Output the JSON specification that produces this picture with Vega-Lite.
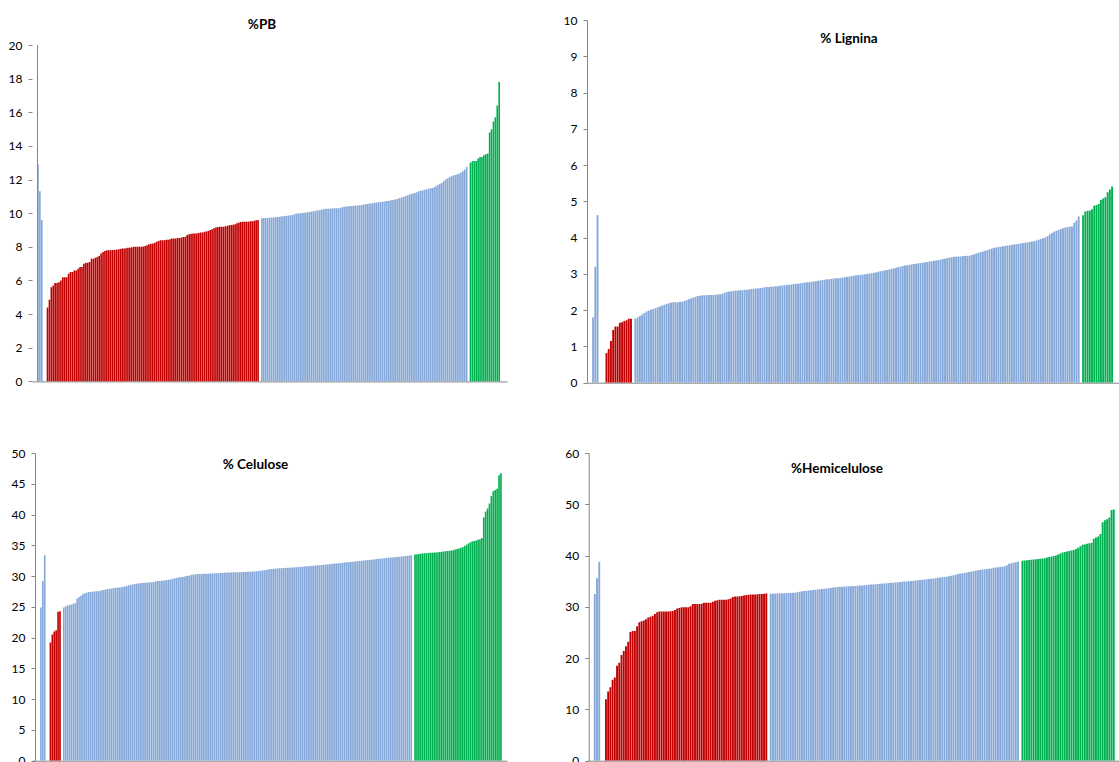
{
"$schema": "https://vega.github.io/schema/vega-lite/v6.json",
"background": "white",
"padding": {"left": 8, "top": 14, "right": 0, "bottom": 0},
"config": {
 "view": {"stroke": null},
 "axisY": {"grid": false, "domainColor": "#868686", "tickColor": "#868686", "tickSize": 4, "labelFont": "Lato", "labelFontSize": 12, "labelColor": "#000000", "labelPadding": 6, "labelOverlap": false},
 "axisX": {"grid": false, "domainColor": "#868686", "labels": false, "ticks": false},
 "title": {"font": "Lato", "fontSize": 13.5, "fontWeight": "bold", "color": "#000000", "offset": 0, "baseline": "alphabetic"}
},
"columns": 2,
"bounds": "flush",
"align": "all",
"spacing": {"row": 70, "column": 23},
"datasets": {
"pb": [
{"s":0,"v":12.9,"g":"r"},{"s":1,"v":11.3,"g":"r"},{"s":2,"v":9.6,"g":"r"},
{"s":5,"v":4.4,"g":"l"},{"s":6,"v":4.85,"g":"l"},{"s":7,"v":5.6,"g":"l"},{"s":8,"v":5.7,"g":"l"},{"s":9,"v":5.85,"g":"l"},{"s":10,"v":5.85,"g":"l"},{"s":11,"v":5.9,"g":"l"},{"s":12,"v":6.0,"g":"l"},{"s":13,"v":6.2,"g":"l"},{"s":14,"v":6.2,"g":"l"},{"s":15,"v":6.2,"g":"l"},{"s":16,"v":6.4,"g":"l"},{"s":17,"v":6.5,"g":"l"},{"s":18,"v":6.5,"g":"l"},{"s":19,"v":6.6,"g":"l"},{"s":20,"v":6.6,"g":"l"},{"s":21,"v":6.7,"g":"l"},{"s":22,"v":6.8,"g":"l"},{"s":23,"v":6.8,"g":"l"},{"s":24,"v":7.0,"g":"l"},{"s":25,"v":7.05,"g":"l"},{"s":26,"v":7.05,"g":"l"},{"s":27,"v":7.1,"g":"l"},{"s":28,"v":7.3,"g":"l"},{"s":29,"v":7.3,"g":"l"},{"s":30,"v":7.35,"g":"l"},{"s":31,"v":7.4,"g":"l"},{"s":32,"v":7.45,"g":"l"},{"s":33,"v":7.6,"g":"l"},{"s":34,"v":7.7,"g":"l"},{"s":35,"v":7.75,"g":"l"},{"s":36,"v":7.8,"g":"l"},{"s":37,"v":7.8,"g":"l"},{"s":38,"v":7.8,"g":"l"},{"s":39,"v":7.82,"g":"l"},{"s":40,"v":7.82,"g":"l"},{"s":41,"v":7.85,"g":"l"},{"s":42,"v":7.85,"g":"l"},{"s":43,"v":7.88,"g":"l"},{"s":44,"v":7.9,"g":"l"},{"s":45,"v":7.9,"g":"l"},{"s":46,"v":7.92,"g":"l"},{"s":47,"v":7.95,"g":"l"},{"s":48,"v":7.95,"g":"l"},{"s":49,"v":7.98,"g":"l"},{"s":50,"v":8.0,"g":"l"},{"s":51,"v":8.0,"g":"l"},{"s":52,"v":8.0,"g":"l"},{"s":53,"v":8.0,"g":"l"},{"s":54,"v":8.0,"g":"l"},{"s":55,"v":8.02,"g":"l"},{"s":56,"v":8.05,"g":"l"},{"s":57,"v":8.1,"g":"l"},{"s":58,"v":8.15,"g":"l"},{"s":59,"v":8.18,"g":"l"},{"s":60,"v":8.2,"g":"l"},{"s":61,"v":8.25,"g":"l"},{"s":62,"v":8.3,"g":"l"},{"s":63,"v":8.35,"g":"l"},{"s":64,"v":8.4,"g":"l"},{"s":65,"v":8.4,"g":"l"},{"s":66,"v":8.4,"g":"l"},{"s":67,"v":8.42,"g":"l"},{"s":68,"v":8.42,"g":"l"},{"s":69,"v":8.45,"g":"l"},{"s":70,"v":8.5,"g":"l"},{"s":71,"v":8.5,"g":"l"},{"s":72,"v":8.5,"g":"l"},{"s":73,"v":8.52,"g":"l"},{"s":74,"v":8.52,"g":"l"},{"s":75,"v":8.55,"g":"l"},{"s":76,"v":8.58,"g":"l"},{"s":77,"v":8.6,"g":"l"},{"s":78,"v":8.7,"g":"l"},{"s":79,"v":8.75,"g":"l"},{"s":80,"v":8.78,"g":"l"},{"s":81,"v":8.8,"g":"l"},{"s":82,"v":8.8,"g":"l"},{"s":83,"v":8.8,"g":"l"},{"s":84,"v":8.82,"g":"l"},{"s":85,"v":8.85,"g":"l"},{"s":86,"v":8.85,"g":"l"},{"s":87,"v":8.9,"g":"l"},{"s":88,"v":8.92,"g":"l"},{"s":89,"v":8.95,"g":"l"},{"s":90,"v":9.0,"g":"l"},{"s":91,"v":9.05,"g":"l"},{"s":92,"v":9.1,"g":"l"},{"s":93,"v":9.15,"g":"l"},{"s":94,"v":9.18,"g":"l"},{"s":95,"v":9.2,"g":"l"},{"s":96,"v":9.2,"g":"l"},{"s":97,"v":9.2,"g":"l"},{"s":98,"v":9.22,"g":"l"},{"s":99,"v":9.25,"g":"l"},{"s":100,"v":9.28,"g":"l"},{"s":101,"v":9.3,"g":"l"},{"s":102,"v":9.32,"g":"l"},{"s":103,"v":9.35,"g":"l"},{"s":104,"v":9.4,"g":"l"},{"s":105,"v":9.45,"g":"l"},{"s":106,"v":9.48,"g":"l"},{"s":107,"v":9.5,"g":"l"},{"s":108,"v":9.5,"g":"l"},{"s":109,"v":9.5,"g":"l"},{"s":110,"v":9.5,"g":"l"},{"s":111,"v":9.52,"g":"l"},{"s":112,"v":9.52,"g":"l"},{"s":113,"v":9.55,"g":"l"},{"s":114,"v":9.58,"g":"l"},{"s":115,"v":9.6,"g":"l"},
{"s":117,"v":9.7,"g":"m"},{"s":118,"v":9.71,"g":"m"},{"s":119,"v":9.72,"g":"m"},{"s":120,"v":9.72,"g":"m"},{"s":121,"v":9.73,"g":"m"},{"s":122,"v":9.74,"g":"m"},{"s":123,"v":9.75,"g":"m"},{"s":124,"v":9.76,"g":"m"},{"s":125,"v":9.77,"g":"m"},{"s":126,"v":9.78,"g":"m"},{"s":127,"v":9.8,"g":"m"},{"s":128,"v":9.82,"g":"m"},{"s":129,"v":9.84,"g":"m"},{"s":130,"v":9.85,"g":"m"},{"s":131,"v":9.87,"g":"m"},{"s":132,"v":9.88,"g":"m"},{"s":133,"v":9.9,"g":"m"},{"s":134,"v":9.94,"g":"m"},{"s":135,"v":9.98,"g":"m"},{"s":136,"v":9.99,"g":"m"},{"s":137,"v":10.0,"g":"m"},{"s":138,"v":10.02,"g":"m"},{"s":139,"v":10.03,"g":"m"},{"s":140,"v":10.04,"g":"m"},{"s":141,"v":10.06,"g":"m"},{"s":142,"v":10.08,"g":"m"},{"s":143,"v":10.1,"g":"m"},{"s":144,"v":10.12,"g":"m"},{"s":145,"v":10.14,"g":"m"},{"s":146,"v":10.16,"g":"m"},{"s":147,"v":10.18,"g":"m"},{"s":148,"v":10.2,"g":"m"},{"s":149,"v":10.23,"g":"m"},{"s":150,"v":10.26,"g":"m"},{"s":151,"v":10.27,"g":"m"},{"s":152,"v":10.27,"g":"m"},{"s":153,"v":10.28,"g":"m"},{"s":154,"v":10.28,"g":"m"},{"s":155,"v":10.29,"g":"m"},{"s":156,"v":10.29,"g":"m"},{"s":157,"v":10.3,"g":"m"},{"s":158,"v":10.32,"g":"m"},{"s":159,"v":10.35,"g":"m"},{"s":160,"v":10.38,"g":"m"},{"s":161,"v":10.4,"g":"m"},{"s":162,"v":10.41,"g":"m"},{"s":163,"v":10.42,"g":"m"},{"s":164,"v":10.43,"g":"m"},{"s":165,"v":10.44,"g":"m"},{"s":166,"v":10.45,"g":"m"},{"s":167,"v":10.46,"g":"m"},{"s":168,"v":10.47,"g":"m"},{"s":169,"v":10.49,"g":"m"},{"s":170,"v":10.51,"g":"m"},{"s":171,"v":10.53,"g":"m"},{"s":172,"v":10.55,"g":"m"},{"s":173,"v":10.57,"g":"m"},{"s":174,"v":10.59,"g":"m"},{"s":175,"v":10.6,"g":"m"},{"s":176,"v":10.62,"g":"m"},{"s":177,"v":10.64,"g":"m"},{"s":178,"v":10.65,"g":"m"},{"s":179,"v":10.67,"g":"m"},{"s":180,"v":10.68,"g":"m"},{"s":181,"v":10.7,"g":"m"},{"s":182,"v":10.72,"g":"m"},{"s":183,"v":10.73,"g":"m"},{"s":184,"v":10.75,"g":"m"},{"s":185,"v":10.78,"g":"m"},{"s":186,"v":10.8,"g":"m"},{"s":187,"v":10.83,"g":"m"},{"s":188,"v":10.86,"g":"m"},{"s":189,"v":10.9,"g":"m"},{"s":190,"v":10.93,"g":"m"},{"s":191,"v":10.97,"g":"m"},{"s":192,"v":11.02,"g":"m"},{"s":193,"v":11.06,"g":"m"},{"s":194,"v":11.1,"g":"m"},{"s":195,"v":11.14,"g":"m"},{"s":196,"v":11.17,"g":"m"},{"s":197,"v":11.2,"g":"m"},{"s":198,"v":11.25,"g":"m"},{"s":199,"v":11.3,"g":"m"},{"s":200,"v":11.34,"g":"m"},{"s":201,"v":11.37,"g":"m"},{"s":202,"v":11.4,"g":"m"},{"s":203,"v":11.42,"g":"m"},{"s":204,"v":11.45,"g":"m"},{"s":205,"v":11.48,"g":"m"},{"s":206,"v":11.5,"g":"m"},{"s":207,"v":11.55,"g":"m"},{"s":208,"v":11.6,"g":"m"},{"s":209,"v":11.68,"g":"m"},{"s":210,"v":11.75,"g":"m"},{"s":211,"v":11.8,"g":"m"},{"s":212,"v":11.9,"g":"m"},{"s":213,"v":12.0,"g":"m"},{"s":214,"v":12.07,"g":"m"},{"s":215,"v":12.14,"g":"m"},{"s":216,"v":12.2,"g":"m"},{"s":217,"v":12.24,"g":"m"},{"s":218,"v":12.28,"g":"m"},{"s":219,"v":12.32,"g":"m"},{"s":220,"v":12.35,"g":"m"},{"s":221,"v":12.42,"g":"m"},{"s":222,"v":12.5,"g":"m"},{"s":223,"v":12.6,"g":"m"},{"s":224,"v":12.75,"g":"m"},
{"s":226,"v":13.0,"g":"h"},{"s":227,"v":13.1,"g":"h"},{"s":228,"v":13.1,"g":"h"},{"s":229,"v":13.1,"g":"h"},{"s":230,"v":13.25,"g":"h"},{"s":231,"v":13.35,"g":"h"},{"s":232,"v":13.35,"g":"h"},{"s":233,"v":13.45,"g":"h"},{"s":234,"v":13.5,"g":"h"},{"s":235,"v":13.55,"g":"h"},{"s":236,"v":14.8,"g":"h"},{"s":237,"v":15.0,"g":"h"},{"s":238,"v":15.45,"g":"h"},{"s":239,"v":15.7,"g":"h"},{"s":240,"v":16.4,"g":"h"},{"s":241,"v":17.8,"g":"h"}
],
"lig": [
{"s":0,"v":1.8,"g":"r"},{"s":1,"v":3.2,"g":"r"},{"s":2,"v":4.62,"g":"r"},
{"s":6,"v":0.82,"g":"l"},{"s":7,"v":0.93,"g":"l"},{"s":8,"v":1.15,"g":"l"},{"s":9,"v":1.45,"g":"l"},{"s":10,"v":1.55,"g":"l"},{"s":11,"v":1.55,"g":"l"},{"s":12,"v":1.65,"g":"l"},{"s":13,"v":1.67,"g":"l"},{"s":14,"v":1.7,"g":"l"},{"s":15,"v":1.72,"g":"l"},{"s":16,"v":1.76,"g":"l"},{"s":17,"v":1.76,"g":"l"},
{"s":19,"v":1.76,"g":"m"},{"s":20,"v":1.8,"g":"m"},{"s":21,"v":1.84,"g":"m"},{"s":22,"v":1.88,"g":"m"},{"s":23,"v":1.92,"g":"m"},{"s":24,"v":1.96,"g":"m"},{"s":25,"v":1.99,"g":"m"},{"s":26,"v":2.01,"g":"m"},{"s":27,"v":2.03,"g":"m"},{"s":28,"v":2.05,"g":"m"},{"s":29,"v":2.08,"g":"m"},{"s":30,"v":2.1,"g":"m"},{"s":31,"v":2.13,"g":"m"},{"s":32,"v":2.15,"g":"m"},{"s":33,"v":2.17,"g":"m"},{"s":34,"v":2.19,"g":"m"},{"s":35,"v":2.21,"g":"m"},{"s":36,"v":2.22,"g":"m"},{"s":37,"v":2.22,"g":"m"},{"s":38,"v":2.22,"g":"m"},{"s":39,"v":2.23,"g":"m"},{"s":40,"v":2.23,"g":"m"},{"s":41,"v":2.25,"g":"m"},{"s":42,"v":2.28,"g":"m"},{"s":43,"v":2.3,"g":"m"},{"s":44,"v":2.33,"g":"m"},{"s":45,"v":2.35,"g":"m"},{"s":46,"v":2.37,"g":"m"},{"s":47,"v":2.39,"g":"m"},{"s":48,"v":2.4,"g":"m"},{"s":49,"v":2.41,"g":"m"},{"s":50,"v":2.41,"g":"m"},{"s":51,"v":2.41,"g":"m"},{"s":52,"v":2.42,"g":"m"},{"s":53,"v":2.42,"g":"m"},{"s":54,"v":2.42,"g":"m"},{"s":55,"v":2.43,"g":"m"},{"s":56,"v":2.43,"g":"m"},{"s":57,"v":2.44,"g":"m"},{"s":58,"v":2.45,"g":"m"},{"s":59,"v":2.48,"g":"m"},{"s":60,"v":2.5,"g":"m"},{"s":61,"v":2.51,"g":"m"},{"s":62,"v":2.52,"g":"m"},{"s":63,"v":2.53,"g":"m"},{"s":64,"v":2.54,"g":"m"},{"s":65,"v":2.54,"g":"m"},{"s":66,"v":2.55,"g":"m"},{"s":67,"v":2.55,"g":"m"},{"s":68,"v":2.56,"g":"m"},{"s":69,"v":2.56,"g":"m"},{"s":70,"v":2.57,"g":"m"},{"s":71,"v":2.58,"g":"m"},{"s":72,"v":2.59,"g":"m"},{"s":73,"v":2.6,"g":"m"},{"s":74,"v":2.6,"g":"m"},{"s":75,"v":2.61,"g":"m"},{"s":76,"v":2.62,"g":"m"},{"s":77,"v":2.63,"g":"m"},{"s":78,"v":2.64,"g":"m"},{"s":79,"v":2.64,"g":"m"},{"s":80,"v":2.65,"g":"m"},{"s":81,"v":2.65,"g":"m"},{"s":82,"v":2.66,"g":"m"},{"s":83,"v":2.66,"g":"m"},{"s":84,"v":2.67,"g":"m"},{"s":85,"v":2.68,"g":"m"},{"s":86,"v":2.69,"g":"m"},{"s":87,"v":2.7,"g":"m"},{"s":88,"v":2.7,"g":"m"},{"s":89,"v":2.71,"g":"m"},{"s":90,"v":2.72,"g":"m"},{"s":91,"v":2.73,"g":"m"},{"s":92,"v":2.73,"g":"m"},{"s":93,"v":2.74,"g":"m"},{"s":94,"v":2.75,"g":"m"},{"s":95,"v":2.76,"g":"m"},{"s":96,"v":2.77,"g":"m"},{"s":97,"v":2.77,"g":"m"},{"s":98,"v":2.78,"g":"m"},{"s":99,"v":2.79,"g":"m"},{"s":100,"v":2.8,"g":"m"},{"s":101,"v":2.81,"g":"m"},{"s":102,"v":2.82,"g":"m"},{"s":103,"v":2.83,"g":"m"},{"s":104,"v":2.84,"g":"m"},{"s":105,"v":2.85,"g":"m"},{"s":106,"v":2.85,"g":"m"},{"s":107,"v":2.86,"g":"m"},{"s":108,"v":2.87,"g":"m"},{"s":109,"v":2.88,"g":"m"},{"s":110,"v":2.88,"g":"m"},{"s":111,"v":2.89,"g":"m"},{"s":112,"v":2.9,"g":"m"},{"s":113,"v":2.91,"g":"m"},{"s":114,"v":2.92,"g":"m"},{"s":115,"v":2.93,"g":"m"},{"s":116,"v":2.94,"g":"m"},{"s":117,"v":2.95,"g":"m"},{"s":118,"v":2.96,"g":"m"},{"s":119,"v":2.97,"g":"m"},{"s":120,"v":2.97,"g":"m"},{"s":121,"v":2.98,"g":"m"},{"s":122,"v":2.99,"g":"m"},{"s":123,"v":3.0,"g":"m"},{"s":124,"v":3.01,"g":"m"},{"s":125,"v":3.02,"g":"m"},{"s":126,"v":3.03,"g":"m"},{"s":127,"v":3.04,"g":"m"},{"s":128,"v":3.06,"g":"m"},{"s":129,"v":3.07,"g":"m"},{"s":130,"v":3.08,"g":"m"},{"s":131,"v":3.1,"g":"m"},{"s":132,"v":3.11,"g":"m"},{"s":133,"v":3.12,"g":"m"},{"s":134,"v":3.14,"g":"m"},{"s":135,"v":3.15,"g":"m"},{"s":136,"v":3.17,"g":"m"},{"s":137,"v":3.19,"g":"m"},{"s":138,"v":3.2,"g":"m"},{"s":139,"v":3.22,"g":"m"},{"s":140,"v":3.23,"g":"m"},{"s":141,"v":3.24,"g":"m"},{"s":142,"v":3.25,"g":"m"},{"s":143,"v":3.26,"g":"m"},{"s":144,"v":3.27,"g":"m"},{"s":145,"v":3.28,"g":"m"},{"s":146,"v":3.29,"g":"m"},{"s":147,"v":3.3,"g":"m"},{"s":148,"v":3.31,"g":"m"},{"s":149,"v":3.32,"g":"m"},{"s":150,"v":3.33,"g":"m"},{"s":151,"v":3.34,"g":"m"},{"s":152,"v":3.35,"g":"m"},{"s":153,"v":3.36,"g":"m"},{"s":154,"v":3.37,"g":"m"},{"s":155,"v":3.38,"g":"m"},{"s":156,"v":3.39,"g":"m"},{"s":157,"v":3.41,"g":"m"},{"s":158,"v":3.42,"g":"m"},{"s":159,"v":3.44,"g":"m"},{"s":160,"v":3.45,"g":"m"},{"s":161,"v":3.46,"g":"m"},{"s":162,"v":3.47,"g":"m"},{"s":163,"v":3.47,"g":"m"},{"s":164,"v":3.48,"g":"m"},{"s":165,"v":3.48,"g":"m"},{"s":166,"v":3.49,"g":"m"},{"s":167,"v":3.49,"g":"m"},{"s":168,"v":3.5,"g":"m"},{"s":169,"v":3.5,"g":"m"},{"s":170,"v":3.52,"g":"m"},{"s":171,"v":3.54,"g":"m"},{"s":172,"v":3.56,"g":"m"},{"s":173,"v":3.58,"g":"m"},{"s":174,"v":3.6,"g":"m"},{"s":175,"v":3.62,"g":"m"},{"s":176,"v":3.64,"g":"m"},{"s":177,"v":3.66,"g":"m"},{"s":178,"v":3.68,"g":"m"},{"s":179,"v":3.7,"g":"m"},{"s":180,"v":3.72,"g":"m"},{"s":181,"v":3.73,"g":"m"},{"s":182,"v":3.74,"g":"m"},{"s":183,"v":3.75,"g":"m"},{"s":184,"v":3.76,"g":"m"},{"s":185,"v":3.77,"g":"m"},{"s":186,"v":3.78,"g":"m"},{"s":187,"v":3.79,"g":"m"},{"s":188,"v":3.8,"g":"m"},{"s":189,"v":3.81,"g":"m"},{"s":190,"v":3.82,"g":"m"},{"s":191,"v":3.83,"g":"m"},{"s":192,"v":3.84,"g":"m"},{"s":193,"v":3.85,"g":"m"},{"s":194,"v":3.86,"g":"m"},{"s":195,"v":3.87,"g":"m"},{"s":196,"v":3.88,"g":"m"},{"s":197,"v":3.89,"g":"m"},{"s":198,"v":3.9,"g":"m"},{"s":199,"v":3.92,"g":"m"},{"s":200,"v":3.94,"g":"m"},{"s":201,"v":3.96,"g":"m"},{"s":202,"v":3.98,"g":"m"},{"s":203,"v":4.0,"g":"m"},{"s":204,"v":4.04,"g":"m"},{"s":205,"v":4.09,"g":"m"},{"s":206,"v":4.13,"g":"m"},{"s":207,"v":4.16,"g":"m"},{"s":208,"v":4.19,"g":"m"},{"s":209,"v":4.21,"g":"m"},{"s":210,"v":4.24,"g":"m"},{"s":211,"v":4.26,"g":"m"},{"s":212,"v":4.28,"g":"m"},{"s":213,"v":4.29,"g":"m"},{"s":214,"v":4.3,"g":"m"},{"s":215,"v":4.31,"g":"m"},{"s":216,"v":4.4,"g":"m"},{"s":217,"v":4.47,"g":"m"},{"s":218,"v":4.58,"g":"m"},
{"s":220,"v":4.62,"g":"h"},{"s":221,"v":4.72,"g":"h"},{"s":222,"v":4.74,"g":"h"},{"s":223,"v":4.75,"g":"h"},{"s":224,"v":4.78,"g":"h"},{"s":225,"v":4.88,"g":"h"},{"s":226,"v":4.9,"g":"h"},{"s":227,"v":4.93,"g":"h"},{"s":228,"v":5.04,"g":"h"},{"s":229,"v":5.08,"g":"h"},{"s":230,"v":5.11,"g":"h"},{"s":231,"v":5.25,"g":"h"},{"s":232,"v":5.33,"g":"h"},{"s":233,"v":5.41,"g":"h"}
],
"cel": [
{"s":0,"v":24.9,"g":"r"},{"s":1,"v":29.2,"g":"r"},{"s":2,"v":33.4,"g":"r"},
{"s":5,"v":19.2,"g":"l"},{"s":6,"v":20.5,"g":"l"},{"s":7,"v":21.0,"g":"l"},{"s":8,"v":21.2,"g":"l"},{"s":9,"v":24.2,"g":"l"},{"s":10,"v":24.3,"g":"l"},
{"s":12,"v":24.9,"g":"m"},{"s":13,"v":25.1,"g":"m"},{"s":14,"v":25.2,"g":"m"},{"s":15,"v":25.3,"g":"m"},{"s":16,"v":25.4,"g":"m"},{"s":17,"v":25.5,"g":"m"},{"s":18,"v":25.6,"g":"m"},{"s":19,"v":26.3,"g":"m"},{"s":20,"v":26.6,"g":"m"},{"s":21,"v":26.8,"g":"m"},{"s":22,"v":27.1,"g":"m"},{"s":23,"v":27.2,"g":"m"},{"s":24,"v":27.3,"g":"m"},{"s":25,"v":27.4,"g":"m"},{"s":26,"v":27.4,"g":"m"},{"s":27,"v":27.45,"g":"m"},{"s":28,"v":27.5,"g":"m"},{"s":29,"v":27.52,"g":"m"},{"s":30,"v":27.55,"g":"m"},{"s":31,"v":27.6,"g":"m"},{"s":32,"v":27.7,"g":"m"},{"s":33,"v":27.72,"g":"m"},{"s":34,"v":27.8,"g":"m"},{"s":35,"v":27.9,"g":"m"},{"s":36,"v":27.95,"g":"m"},{"s":37,"v":28.0,"g":"m"},{"s":38,"v":28.05,"g":"m"},{"s":39,"v":28.1,"g":"m"},{"s":40,"v":28.12,"g":"m"},{"s":41,"v":28.15,"g":"m"},{"s":42,"v":28.2,"g":"m"},{"s":43,"v":28.25,"g":"m"},{"s":44,"v":28.3,"g":"m"},{"s":45,"v":28.4,"g":"m"},{"s":46,"v":28.5,"g":"m"},{"s":47,"v":28.6,"g":"m"},{"s":48,"v":28.65,"g":"m"},{"s":49,"v":28.7,"g":"m"},{"s":50,"v":28.75,"g":"m"},{"s":51,"v":28.8,"g":"m"},{"s":52,"v":28.85,"g":"m"},{"s":53,"v":28.87,"g":"m"},{"s":54,"v":28.9,"g":"m"},{"s":55,"v":28.92,"g":"m"},{"s":56,"v":28.94,"g":"m"},{"s":57,"v":28.95,"g":"m"},{"s":58,"v":29.0,"g":"m"},{"s":59,"v":29.05,"g":"m"},{"s":60,"v":29.1,"g":"m"},{"s":61,"v":29.2,"g":"m"},{"s":62,"v":29.22,"g":"m"},{"s":63,"v":29.25,"g":"m"},{"s":64,"v":29.28,"g":"m"},{"s":65,"v":29.3,"g":"m"},{"s":66,"v":29.35,"g":"m"},{"s":67,"v":29.4,"g":"m"},{"s":68,"v":29.45,"g":"m"},{"s":69,"v":29.55,"g":"m"},{"s":70,"v":29.65,"g":"m"},{"s":71,"v":29.7,"g":"m"},{"s":72,"v":29.75,"g":"m"},{"s":73,"v":29.8,"g":"m"},{"s":74,"v":29.85,"g":"m"},{"s":75,"v":29.9,"g":"m"},{"s":76,"v":30.0,"g":"m"},{"s":77,"v":30.05,"g":"m"},{"s":78,"v":30.1,"g":"m"},{"s":79,"v":30.2,"g":"m"},{"s":80,"v":30.25,"g":"m"},{"s":81,"v":30.3,"g":"m"},{"s":82,"v":30.32,"g":"m"},{"s":83,"v":30.33,"g":"m"},{"s":84,"v":30.35,"g":"m"},{"s":85,"v":30.36,"g":"m"},{"s":86,"v":30.38,"g":"m"},{"s":87,"v":30.39,"g":"m"},{"s":88,"v":30.4,"g":"m"},{"s":89,"v":30.42,"g":"m"},{"s":90,"v":30.43,"g":"m"},{"s":91,"v":30.45,"g":"m"},{"s":92,"v":30.47,"g":"m"},{"s":93,"v":30.48,"g":"m"},{"s":94,"v":30.5,"g":"m"},{"s":95,"v":30.52,"g":"m"},{"s":96,"v":30.54,"g":"m"},{"s":97,"v":30.56,"g":"m"},{"s":98,"v":30.58,"g":"m"},{"s":99,"v":30.59,"g":"m"},{"s":100,"v":30.6,"g":"m"},{"s":101,"v":30.61,"g":"m"},{"s":102,"v":30.62,"g":"m"},{"s":103,"v":30.63,"g":"m"},{"s":104,"v":30.64,"g":"m"},{"s":105,"v":30.65,"g":"m"},{"s":106,"v":30.66,"g":"m"},{"s":107,"v":30.68,"g":"m"},{"s":108,"v":30.69,"g":"m"},{"s":109,"v":30.7,"g":"m"},{"s":110,"v":30.72,"g":"m"},{"s":111,"v":30.73,"g":"m"},{"s":112,"v":30.74,"g":"m"},{"s":113,"v":30.78,"g":"m"},{"s":114,"v":30.82,"g":"m"},{"s":115,"v":30.86,"g":"m"},{"s":116,"v":30.9,"g":"m"},{"s":117,"v":30.95,"g":"m"},{"s":118,"v":31.0,"g":"m"},{"s":119,"v":31.05,"g":"m"},{"s":120,"v":31.1,"g":"m"},{"s":121,"v":31.15,"g":"m"},{"s":122,"v":31.2,"g":"m"},{"s":123,"v":31.22,"g":"m"},{"s":124,"v":31.24,"g":"m"},{"s":125,"v":31.26,"g":"m"},{"s":126,"v":31.28,"g":"m"},{"s":127,"v":31.3,"g":"m"},{"s":128,"v":31.32,"g":"m"},{"s":129,"v":31.34,"g":"m"},{"s":130,"v":31.36,"g":"m"},{"s":131,"v":31.38,"g":"m"},{"s":132,"v":31.4,"g":"m"},{"s":133,"v":31.42,"g":"m"},{"s":134,"v":31.44,"g":"m"},{"s":135,"v":31.47,"g":"m"},{"s":136,"v":31.5,"g":"m"},{"s":137,"v":31.52,"g":"m"},{"s":138,"v":31.55,"g":"m"},{"s":139,"v":31.58,"g":"m"},{"s":140,"v":31.6,"g":"m"},{"s":141,"v":31.63,"g":"m"},{"s":142,"v":31.66,"g":"m"},{"s":143,"v":31.69,"g":"m"},{"s":144,"v":31.72,"g":"m"},{"s":145,"v":31.75,"g":"m"},{"s":146,"v":31.78,"g":"m"},{"s":147,"v":31.81,"g":"m"},{"s":148,"v":31.84,"g":"m"},{"s":149,"v":31.87,"g":"m"},{"s":150,"v":31.9,"g":"m"},{"s":151,"v":31.93,"g":"m"},{"s":152,"v":31.96,"g":"m"},{"s":153,"v":32.0,"g":"m"},{"s":154,"v":32.03,"g":"m"},{"s":155,"v":32.06,"g":"m"},{"s":156,"v":32.1,"g":"m"},{"s":157,"v":32.13,"g":"m"},{"s":158,"v":32.16,"g":"m"},{"s":159,"v":32.2,"g":"m"},{"s":160,"v":32.23,"g":"m"},{"s":161,"v":32.26,"g":"m"},{"s":162,"v":32.3,"g":"m"},{"s":163,"v":32.33,"g":"m"},{"s":164,"v":32.36,"g":"m"},{"s":165,"v":32.4,"g":"m"},{"s":166,"v":32.43,"g":"m"},{"s":167,"v":32.46,"g":"m"},{"s":168,"v":32.5,"g":"m"},{"s":169,"v":32.53,"g":"m"},{"s":170,"v":32.56,"g":"m"},{"s":171,"v":32.6,"g":"m"},{"s":172,"v":32.63,"g":"m"},{"s":173,"v":32.66,"g":"m"},{"s":174,"v":32.7,"g":"m"},{"s":175,"v":32.73,"g":"m"},{"s":176,"v":32.76,"g":"m"},{"s":177,"v":32.8,"g":"m"},{"s":178,"v":32.83,"g":"m"},{"s":179,"v":32.86,"g":"m"},{"s":180,"v":32.9,"g":"m"},{"s":181,"v":32.93,"g":"m"},{"s":182,"v":32.96,"g":"m"},{"s":183,"v":33.0,"g":"m"},{"s":184,"v":33.03,"g":"m"},{"s":185,"v":33.06,"g":"m"},{"s":186,"v":33.1,"g":"m"},{"s":187,"v":33.13,"g":"m"},{"s":188,"v":33.16,"g":"m"},{"s":189,"v":33.2,"g":"m"},{"s":190,"v":33.23,"g":"m"},{"s":191,"v":33.26,"g":"m"},{"s":192,"v":33.3,"g":"m"},{"s":193,"v":33.35,"g":"m"},{"s":194,"v":33.4,"g":"m"},
{"s":196,"v":33.5,"g":"h"},{"s":197,"v":33.55,"g":"h"},{"s":198,"v":33.6,"g":"h"},{"s":199,"v":33.62,"g":"h"},{"s":200,"v":33.65,"g":"h"},{"s":201,"v":33.7,"g":"h"},{"s":202,"v":33.72,"g":"h"},{"s":203,"v":33.75,"g":"h"},{"s":204,"v":33.78,"g":"h"},{"s":205,"v":33.8,"g":"h"},{"s":206,"v":33.82,"g":"h"},{"s":207,"v":33.85,"g":"h"},{"s":208,"v":33.88,"g":"h"},{"s":209,"v":33.9,"g":"h"},{"s":210,"v":33.95,"g":"h"},{"s":211,"v":34.0,"g":"h"},{"s":212,"v":34.03,"g":"h"},{"s":213,"v":34.06,"g":"h"},{"s":214,"v":34.1,"g":"h"},{"s":215,"v":34.15,"g":"h"},{"s":216,"v":34.2,"g":"h"},{"s":217,"v":34.3,"g":"h"},{"s":218,"v":34.4,"g":"h"},{"s":219,"v":34.5,"g":"h"},{"s":220,"v":34.6,"g":"h"},{"s":221,"v":34.7,"g":"h"},{"s":222,"v":34.9,"g":"h"},{"s":223,"v":35.1,"g":"h"},{"s":224,"v":35.3,"g":"h"},{"s":225,"v":35.5,"g":"h"},{"s":226,"v":35.6,"g":"h"},{"s":227,"v":35.7,"g":"h"},{"s":228,"v":35.8,"g":"h"},{"s":229,"v":35.9,"g":"h"},{"s":230,"v":36.0,"g":"h"},{"s":231,"v":36.2,"g":"h"},{"s":232,"v":39.5,"g":"h"},{"s":233,"v":40.5,"g":"h"},{"s":234,"v":41.0,"g":"h"},{"s":235,"v":41.8,"g":"h"},{"s":236,"v":43.0,"g":"h"},{"s":237,"v":43.8,"g":"h"},{"s":238,"v":44.0,"g":"h"},{"s":239,"v":44.2,"g":"h"},{"s":240,"v":46.4,"g":"h"},{"s":241,"v":46.7,"g":"h"}
],
"hem": [
{"s":0,"v":32.5,"g":"r"},{"s":1,"v":35.6,"g":"r"},{"s":2,"v":38.8,"g":"r"},
{"s":5,"v":12.0,"g":"l"},{"s":6,"v":13.5,"g":"l"},{"s":7,"v":14.3,"g":"l"},{"s":8,"v":15.8,"g":"l"},{"s":9,"v":16.2,"g":"l"},{"s":10,"v":18.5,"g":"l"},{"s":11,"v":19.1,"g":"l"},{"s":12,"v":20.6,"g":"l"},{"s":13,"v":21.4,"g":"l"},{"s":14,"v":22.3,"g":"l"},{"s":15,"v":23.2,"g":"l"},{"s":16,"v":25.1,"g":"l"},{"s":17,"v":25.3,"g":"l"},{"s":18,"v":25.3,"g":"l"},{"s":19,"v":26.2,"g":"l"},{"s":20,"v":27.0,"g":"l"},{"s":21,"v":27.2,"g":"l"},{"s":22,"v":27.35,"g":"l"},{"s":23,"v":27.6,"g":"l"},{"s":24,"v":27.9,"g":"l"},{"s":25,"v":28.05,"g":"l"},{"s":26,"v":28.25,"g":"l"},{"s":27,"v":28.6,"g":"l"},{"s":28,"v":28.95,"g":"l"},{"s":29,"v":29.1,"g":"l"},{"s":30,"v":29.1,"g":"l"},{"s":31,"v":29.1,"g":"l"},{"s":32,"v":29.1,"g":"l"},{"s":33,"v":29.1,"g":"l"},{"s":34,"v":29.15,"g":"l"},{"s":35,"v":29.2,"g":"l"},{"s":36,"v":29.4,"g":"l"},{"s":37,"v":29.7,"g":"l"},{"s":38,"v":29.8,"g":"l"},{"s":39,"v":29.9,"g":"l"},{"s":40,"v":29.9,"g":"l"},{"s":41,"v":29.9,"g":"l"},{"s":42,"v":29.9,"g":"l"},{"s":43,"v":30.1,"g":"l"},{"s":44,"v":30.55,"g":"l"},{"s":45,"v":30.55,"g":"l"},{"s":46,"v":30.55,"g":"l"},{"s":47,"v":30.55,"g":"l"},{"s":48,"v":30.6,"g":"l"},{"s":49,"v":30.8,"g":"l"},{"s":50,"v":30.8,"g":"l"},{"s":51,"v":30.8,"g":"l"},{"s":52,"v":30.8,"g":"l"},{"s":53,"v":31.0,"g":"l"},{"s":54,"v":31.2,"g":"l"},{"s":55,"v":31.3,"g":"l"},{"s":56,"v":31.4,"g":"l"},{"s":57,"v":31.4,"g":"l"},{"s":58,"v":31.4,"g":"l"},{"s":59,"v":31.4,"g":"l"},{"s":60,"v":31.5,"g":"l"},{"s":61,"v":31.65,"g":"l"},{"s":62,"v":31.9,"g":"l"},{"s":63,"v":32.0,"g":"l"},{"s":64,"v":32.0,"g":"l"},{"s":65,"v":32.05,"g":"l"},{"s":66,"v":32.1,"g":"l"},{"s":67,"v":32.2,"g":"l"},{"s":68,"v":32.3,"g":"l"},{"s":69,"v":32.35,"g":"l"},{"s":70,"v":32.4,"g":"l"},{"s":71,"v":32.4,"g":"l"},{"s":72,"v":32.4,"g":"l"},{"s":73,"v":32.45,"g":"l"},{"s":74,"v":32.5,"g":"l"},{"s":75,"v":32.5,"g":"l"},{"s":76,"v":32.55,"g":"l"},{"s":77,"v":32.6,"g":"l"},
{"s":79,"v":32.55,"g":"m"},{"s":80,"v":32.57,"g":"m"},{"s":81,"v":32.6,"g":"m"},{"s":82,"v":32.6,"g":"m"},{"s":83,"v":32.62,"g":"m"},{"s":84,"v":32.64,"g":"m"},{"s":85,"v":32.66,"g":"m"},{"s":86,"v":32.68,"g":"m"},{"s":87,"v":32.7,"g":"m"},{"s":88,"v":32.72,"g":"m"},{"s":89,"v":32.74,"g":"m"},{"s":90,"v":32.76,"g":"m"},{"s":91,"v":32.85,"g":"m"},{"s":92,"v":32.95,"g":"m"},{"s":93,"v":33.05,"g":"m"},{"s":94,"v":33.1,"g":"m"},{"s":95,"v":33.15,"g":"m"},{"s":96,"v":33.2,"g":"m"},{"s":97,"v":33.25,"g":"m"},{"s":98,"v":33.3,"g":"m"},{"s":99,"v":33.35,"g":"m"},{"s":100,"v":33.4,"g":"m"},{"s":101,"v":33.45,"g":"m"},{"s":102,"v":33.5,"g":"m"},{"s":103,"v":33.55,"g":"m"},{"s":104,"v":33.6,"g":"m"},{"s":105,"v":33.65,"g":"m"},{"s":106,"v":33.7,"g":"m"},{"s":107,"v":33.75,"g":"m"},{"s":108,"v":33.8,"g":"m"},{"s":109,"v":33.88,"g":"m"},{"s":110,"v":33.9,"g":"m"},{"s":111,"v":33.92,"g":"m"},{"s":112,"v":33.95,"g":"m"},{"s":113,"v":33.98,"g":"m"},{"s":114,"v":34.0,"g":"m"},{"s":115,"v":34.03,"g":"m"},{"s":116,"v":34.06,"g":"m"},{"s":117,"v":34.09,"g":"m"},{"s":118,"v":34.12,"g":"m"},{"s":119,"v":34.15,"g":"m"},{"s":120,"v":34.18,"g":"m"},{"s":121,"v":34.21,"g":"m"},{"s":122,"v":34.25,"g":"m"},{"s":123,"v":34.3,"g":"m"},{"s":124,"v":34.34,"g":"m"},{"s":125,"v":34.38,"g":"m"},{"s":126,"v":34.42,"g":"m"},{"s":127,"v":34.46,"g":"m"},{"s":128,"v":34.5,"g":"m"},{"s":129,"v":34.53,"g":"m"},{"s":130,"v":34.57,"g":"m"},{"s":131,"v":34.61,"g":"m"},{"s":132,"v":34.65,"g":"m"},{"s":133,"v":34.69,"g":"m"},{"s":134,"v":34.72,"g":"m"},{"s":135,"v":34.76,"g":"m"},{"s":136,"v":34.8,"g":"m"},{"s":137,"v":34.84,"g":"m"},{"s":138,"v":34.88,"g":"m"},{"s":139,"v":34.92,"g":"m"},{"s":140,"v":34.96,"g":"m"},{"s":141,"v":35.0,"g":"m"},{"s":142,"v":35.05,"g":"m"},{"s":143,"v":35.1,"g":"m"},{"s":144,"v":35.15,"g":"m"},{"s":145,"v":35.2,"g":"m"},{"s":146,"v":35.25,"g":"m"},{"s":147,"v":35.3,"g":"m"},{"s":148,"v":35.35,"g":"m"},{"s":149,"v":35.4,"g":"m"},{"s":150,"v":35.45,"g":"m"},{"s":151,"v":35.5,"g":"m"},{"s":152,"v":35.55,"g":"m"},{"s":153,"v":35.6,"g":"m"},{"s":154,"v":35.65,"g":"m"},{"s":155,"v":35.7,"g":"m"},{"s":156,"v":35.76,"g":"m"},{"s":157,"v":35.82,"g":"m"},{"s":158,"v":35.88,"g":"m"},{"s":159,"v":35.95,"g":"m"},{"s":160,"v":36.05,"g":"m"},{"s":161,"v":36.15,"g":"m"},{"s":162,"v":36.25,"g":"m"},{"s":163,"v":36.4,"g":"m"},{"s":164,"v":36.48,"g":"m"},{"s":165,"v":36.55,"g":"m"},{"s":166,"v":36.62,"g":"m"},{"s":167,"v":36.7,"g":"m"},{"s":168,"v":36.8,"g":"m"},{"s":169,"v":36.88,"g":"m"},{"s":170,"v":36.96,"g":"m"},{"s":171,"v":37.04,"g":"m"},{"s":172,"v":37.12,"g":"m"},{"s":173,"v":37.2,"g":"m"},{"s":174,"v":37.3,"g":"m"},{"s":175,"v":37.35,"g":"m"},{"s":176,"v":37.4,"g":"m"},{"s":177,"v":37.45,"g":"m"},{"s":178,"v":37.5,"g":"m"},{"s":179,"v":37.6,"g":"m"},{"s":180,"v":37.65,"g":"m"},{"s":181,"v":37.7,"g":"m"},{"s":182,"v":37.75,"g":"m"},{"s":183,"v":37.8,"g":"m"},{"s":184,"v":37.9,"g":"m"},{"s":185,"v":38.1,"g":"m"},{"s":186,"v":38.4,"g":"m"},{"s":187,"v":38.5,"g":"m"},{"s":188,"v":38.6,"g":"m"},{"s":189,"v":38.7,"g":"m"},{"s":190,"v":38.8,"g":"m"},
{"s":192,"v":39.0,"g":"h"},{"s":193,"v":39.05,"g":"h"},{"s":194,"v":39.1,"g":"h"},{"s":195,"v":39.15,"g":"h"},{"s":196,"v":39.2,"g":"h"},{"s":197,"v":39.25,"g":"h"},{"s":198,"v":39.3,"g":"h"},{"s":199,"v":39.35,"g":"h"},{"s":200,"v":39.4,"g":"h"},{"s":201,"v":39.45,"g":"h"},{"s":202,"v":39.5,"g":"h"},{"s":203,"v":39.6,"g":"h"},{"s":204,"v":39.7,"g":"h"},{"s":205,"v":39.8,"g":"h"},{"s":206,"v":39.9,"g":"h"},{"s":207,"v":40.0,"g":"h"},{"s":208,"v":40.2,"g":"h"},{"s":209,"v":40.4,"g":"h"},{"s":210,"v":40.6,"g":"h"},{"s":211,"v":40.7,"g":"h"},{"s":212,"v":40.8,"g":"h"},{"s":213,"v":40.9,"g":"h"},{"s":214,"v":41.0,"g":"h"},{"s":215,"v":41.1,"g":"h"},{"s":216,"v":41.3,"g":"h"},{"s":217,"v":41.5,"g":"h"},{"s":218,"v":41.8,"g":"h"},{"s":219,"v":42.1,"g":"h"},{"s":220,"v":42.2,"g":"h"},{"s":221,"v":42.3,"g":"h"},{"s":222,"v":42.4,"g":"h"},{"s":223,"v":42.5,"g":"h"},{"s":224,"v":43.3,"g":"h"},{"s":225,"v":43.5,"g":"h"},{"s":226,"v":43.7,"g":"h"},{"s":227,"v":44.2,"g":"h"},{"s":228,"v":46.5,"g":"h"},{"s":229,"v":46.9,"g":"h"},{"s":230,"v":47.1,"g":"h"},{"s":231,"v":47.4,"g":"h"},{"s":232,"v":48.9,"g":"h"},{"s":233,"v":49.0,"g":"h"}
]
},
"concat": [
{
 "width": 475, "height": 361.4,
 "title": {"text": "%PB", "dx": -7.5, "dy": 15.2},
 "layer": [
  {"data": {"name": "pb"},
   "mark": {"type": "bar", "size": 1.65, "clip": true},
   "encoding": {
    "x": {"field": "s", "type": "quantitative", "title": null, "scale": {"domain": [-0.5, 242.46], "nice": false, "zero": false}},
    "y": {"field": "v", "type": "quantitative", "title": null, "scale": {"domain": [0, 21.49], "nice": false}, "axis": {"values": [0,2,4,6,8,10,12,14,16,18,20], "domain": false, "labelOverlap": false}},
    "color": {"field": "g", "type": "nominal", "legend": null, "scale": {"domain": ["r","l","m","h"], "range": ["#86A8D8","#C00000","#86A8D8","#00B050"]}}
   }},
  {"data": {"values": [{}]},
   "mark": {"type": "rule", "color": "#868686", "strokeWidth": 1},
   "encoding": {"x": {"datum": -0.244}, "y": {"datum": 0, "axis": {"values": [0,2,4,6,8,10,12,14,16,18,20], "domain": false, "labelOverlap": false}}, "y2": {"datum": 20}}}
 ]
},
{
 "width": 532, "height": 362.7,
 "title": {"text": "% Lignina", "dx": -4, "dy": 35.7},
 "data": {"name": "lig"},
 "mark": {"type": "bar", "size": 1.9, "clip": true},
 "encoding": {
  "x": {"field": "s", "type": "quantitative", "title": null, "scale": {"domain": [-0.5, 233.86], "nice": false, "zero": false}},
  "y": {"field": "v", "type": "quantitative", "title": null, "scale": {"domain": [0, 10], "nice": false}, "axis": {"values": [0,1,2,3,4,5,6,7,8,9,10]}},
  "color": {"field": "g", "type": "nominal", "legend": null, "scale": {"domain": ["r","l","m","h"], "range": ["#86A8D8","#C0504D","#86A8D8","#00B050"]}}
 }
},
{
 "width": 475, "height": 307.7,
 "title": {"text": "% Celulose", "dx": -14, "dy": 28.9},
 "data": {"name": "cel"},
 "mark": {"type": "bar", "size": 1.65, "clip": true},
 "encoding": {
  "x": {"field": "s", "type": "quantitative", "title": null, "scale": {"domain": [-2.04, 241.55], "nice": false, "zero": false}},
  "y": {"field": "v", "type": "quantitative", "title": null, "scale": {"domain": [0, 50], "nice": false}, "axis": {"values": [0,5,10,15,20,25,30,35,40,45,50], "offset": -3}},
  "color": {"field": "g", "type": "nominal", "legend": null, "scale": {"domain": ["r","l","m","h"], "range": ["#86A8D8","#C00000","#86A8D8","#00B050"]}}
 }
},
{
 "width": 532, "height": 307.7,
 "title": {"text": "%Hemicelulose", "dx": -16, "dy": 32.4},
 "data": {"name": "hem"},
 "mark": {"type": "bar", "size": 1.9, "clip": true},
 "encoding": {
  "x": {"field": "s", "type": "quantitative", "title": null, "scale": {"domain": [-1.25, 233.1], "nice": false, "zero": false}},
  "y": {"field": "v", "type": "quantitative", "title": null, "scale": {"domain": [0, 60], "nice": false}, "axis": {"values": [0,10,20,30,40,50,60], "offset": -1.7}},
  "color": {"field": "g", "type": "nominal", "legend": null, "scale": {"domain": ["r","l","m","h"], "range": ["#86A8D8","#C00000","#86A8D8","#00B050"]}}
 }
}
]
}
